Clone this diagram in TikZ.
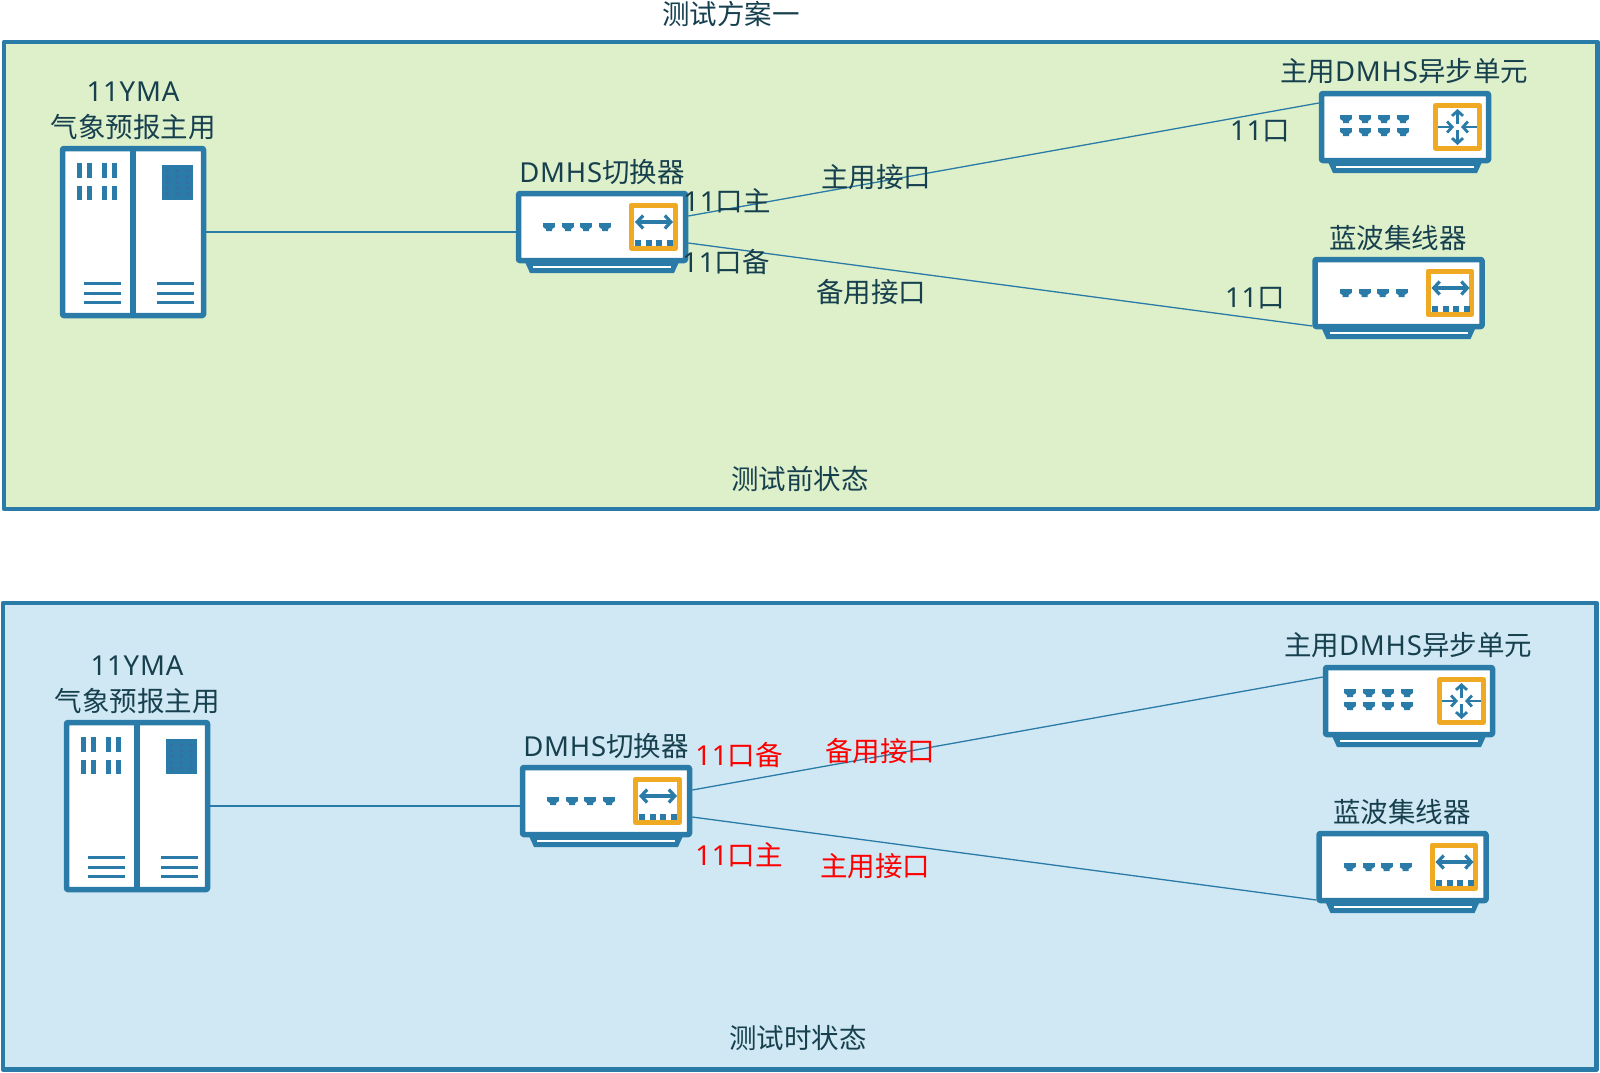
\documentclass[tikz,border=0pt]{standalone}
\usepackage{fontspec}
\setmainfont{Noto Sans CJK SC}
\newfontfamily\latfont[LetterSpace=3]{Noto Sans}
\newcommand{\lat}[1]{{\latfont #1}}
\usepackage{xcolor}
\usetikzlibrary{arrows.meta,calc,positioning}

\definecolor{netblue}{HTML}{2A7BA7}
\definecolor{netgold}{HTML}{F0A923}
\definecolor{netgreen}{HTML}{DEF0CA}
\definecolor{netsky}{HTML}{D0E8F4}
\definecolor{nettext}{HTML}{17404F}
\definecolor{netdot}{HTML}{3A6CA6}

\begin{document}
\begin{tikzpicture}[
  x=1pt, y=-1pt,
  line cap=butt,
  line join=round,
  panel/.style={draw=netblue, line width=4.5pt},
  label/.style={font=\fontsize{27.5}{30}\selectfont, text=nettext, inner sep=0pt},
  hotlabel/.style={label, text=red},
  devbox/.style={draw=netblue, fill=white, line width=5.5pt, rounded corners=1pt,
    inner sep=0pt, minimum width=167pt, minimum height=67pt},
  rackbox/.style={draw=netblue, fill=white, line width=5.5pt, rounded corners=1pt,
    inner sep=0pt, minimum width=141pt, minimum height=167pt},
  link/.style={draw=netblue, line width=1.3pt},
  iconarrow/.style={draw=netblue, line width=3.2pt,
    {Straight Barb[length=6pt,width=13pt]}-{Straight Barb[length=6pt,width=13pt]}},
  inarrow/.style={draw=netblue, line width=2.8pt,
    -{Straight Barb[length=5pt,width=11pt]}},
  portmark/.pic={
    \fill[netblue] (-6,-4) rectangle (6,0);
    \fill[netblue] (-6,0) -- (6,0) -- (3,2) -- (3,4) -- (-3,4) -- (-3,2) -- cycle;
  },
  devfoot/.pic={
    \fill[netblue] (-77,35) -- (77,35) -- (72,46) -- (-72,46) -- cycle;
    \draw[white, line width=1.4pt] (-69,40) -- (69,40);
  },
  hubface/.pic={
    \pic at (0,0) {devfoot};
    \foreach \x in {-53,-34,-16,3}{ \pic at (\x,0) {portmark}; }
    \draw[netgold, fill=white, line width=5pt] (29.5,-22) rectangle (73,21.5);
    \draw[iconarrow] (33,-5) -- (71,-5);
    \foreach \x in {36,47,57,68}{ \fill[netblue] (\x-3,13) rectangle (\x+3,19); }
  },
  routerface/.pic={
    \pic at (0,0) {devfoot};
    \foreach \x in {-59,-40,-21,-2}{
      \pic at (\x,-8) {portmark};
      \pic at (\x,5) {portmark};
    }
    \draw[netgold, fill=white, line width=5pt] (30.5,-21.5) rectangle (74.5,21);
    \draw[inarrow] (33,0) -- (49,0);
    \draw[inarrow] (72,0) -- (56,0);
    \draw[inarrow] (52.5,-3) -- (52.5,-18);
    \draw[inarrow] (52.5,3) -- (52.5,18);
  },
  rackface/.pic={
    \draw[netblue, line width=5.5pt] (0,-83.5) -- (0,83.5);
    \foreach \x in {-54,-44,-29,-19}{
      \fill[netblue] (\x-2.5,-69) rectangle (\x+2.5,-54);
      \fill[netblue] (\x-2.5,-46) rectangle (\x+2.5,-32);
    }
    \fill[netblue] (29,-67) rectangle (60,-32);
    \foreach \x in {34.5,44.5,54.5}{
      \foreach \y in {-61,-55,-49.5,-44,-38}{
        \fill[netdot] (\x,\y) circle (1.8pt);
      }
    }
    \foreach \y in {51,61,70}{
      \draw[netblue, line width=3pt] (-49,\y) -- (-12,\y);
      \draw[netblue, line width=3pt] (24,\y) -- (61,\y);
    }
  }
]
\useasboundingbox (0,0) rectangle (1600,1072);
\fill[white] (0,0) rectangle (1600,1072);

\node[label] (planTitle) at (731,14) {测试方案一};
\path[panel, fill=netgreen] (4,42) rectangle (1597.5,509);
\path[panel, fill=netsky] (3,603) rectangle (1596.5,1069.5);

% Before the test
\begin{scope}
  \node[rackbox] (rackA) at (133,232) {};
  \pic at (rackA) {rackface};
  \node[devbox] (dmhsA) at (602,227) {};
  \pic at (dmhsA) {hubface};
  \node[devbox] (mainA) at (1405,127) {};
  \pic at (mainA) {routerface};
  \node[devbox] (hubA) at (1398.5,293) {};
  \pic at (hubA) {hubface};

  \coordinate (dmhsAup) at ($(dmhsA.east)+(0,-11)$);
  \coordinate (dmhsAdn) at ($(dmhsA.east)+(0,16)$);
  \coordinate (mainAin) at ($(mainA.west)+(0,-24)$);
  \coordinate (hubAin) at ($(hubA.west)+(0,33)$);

  \draw[link] (rackA.east) -- (rackA.east -| dmhsA.west);
  \draw[link] (dmhsAup) -- (mainAin);
  \draw[link] (dmhsAdn) -- (hubAin);

  \node[label] (rackAname) at (133,92) {\lat{11YMA}};
  \node[label] (rackAuse) at (133,127) {气象预报主用};
  \node[label] (dmhsAname) at (602,172) {\lat{DMHS}切换器};
  \node[label] (mainAname) at (1404,71) {主用\lat{DMHS}异步单元};
  \node[label] (hubAname) at (1398,238) {蓝波集线器};
  \node[label] (portAup) at (727,201) {\lat{11}口主};
  \node[label] (portAdn) at (726,262) {\lat{11}口备};
  \node[label] (lineAup) at (876,177) {主用接口};
  \node[label] (lineAdn) at (871,292) {备用接口};
  \node[label] (portAmain) at (1260,131) {\lat{11}口};
  \node[label] (portAhub) at (1255,298) {\lat{11}口};
  \node[label] (stateA) at (800,479) {测试前状态};
\end{scope}

% During the test
\begin{scope}[xshift=4pt, yshift=-574pt]
  \node[rackbox] (rackB) at (133,232) {};
  \pic at (rackB) {rackface};
  \node[devbox] (dmhsB) at (602,227) {};
  \pic at (dmhsB) {hubface};
  \node[devbox] (mainB) at (1405,127) {};
  \pic at (mainB) {routerface};
  \node[devbox] (hubB) at (1398.5,293) {};
  \pic at (hubB) {hubface};

  \coordinate (dmhsBup) at ($(dmhsB.east)+(0,-11)$);
  \coordinate (dmhsBdn) at ($(dmhsB.east)+(0,16)$);
  \coordinate (mainBin) at ($(mainB.west)+(0,-24)$);
  \coordinate (hubBin) at ($(hubB.west)+(0,33)$);

  \draw[link] (rackB.east) -- (rackB.east -| dmhsB.west);
  \draw[link] (dmhsBup) -- (mainBin);
  \draw[link] (dmhsBdn) -- (hubBin);

  \node[label] (rackBname) at (133,92) {\lat{11YMA}};
  \node[label] (rackBuse) at (133,127) {气象预报主用};
  \node[label] (dmhsBname) at (602,172) {\lat{DMHS}切换器};
  \node[label] (mainBname) at (1404,71) {主用\lat{DMHS}异步单元};
  \node[label] (hubBname) at (1398,238) {蓝波集线器};
  \node[hotlabel] (portBup) at (735,181) {\lat{11}口备};
  \node[hotlabel] (portBdn) at (735,281) {\lat{11}口主};
  \node[hotlabel] (lineBup) at (876,177) {备用接口};
  \node[hotlabel] (lineBdn) at (871,292) {主用接口};
  \node[label] (stateB) at (794,464) {测试时状态};
\end{scope}
\end{tikzpicture}
\end{document}
